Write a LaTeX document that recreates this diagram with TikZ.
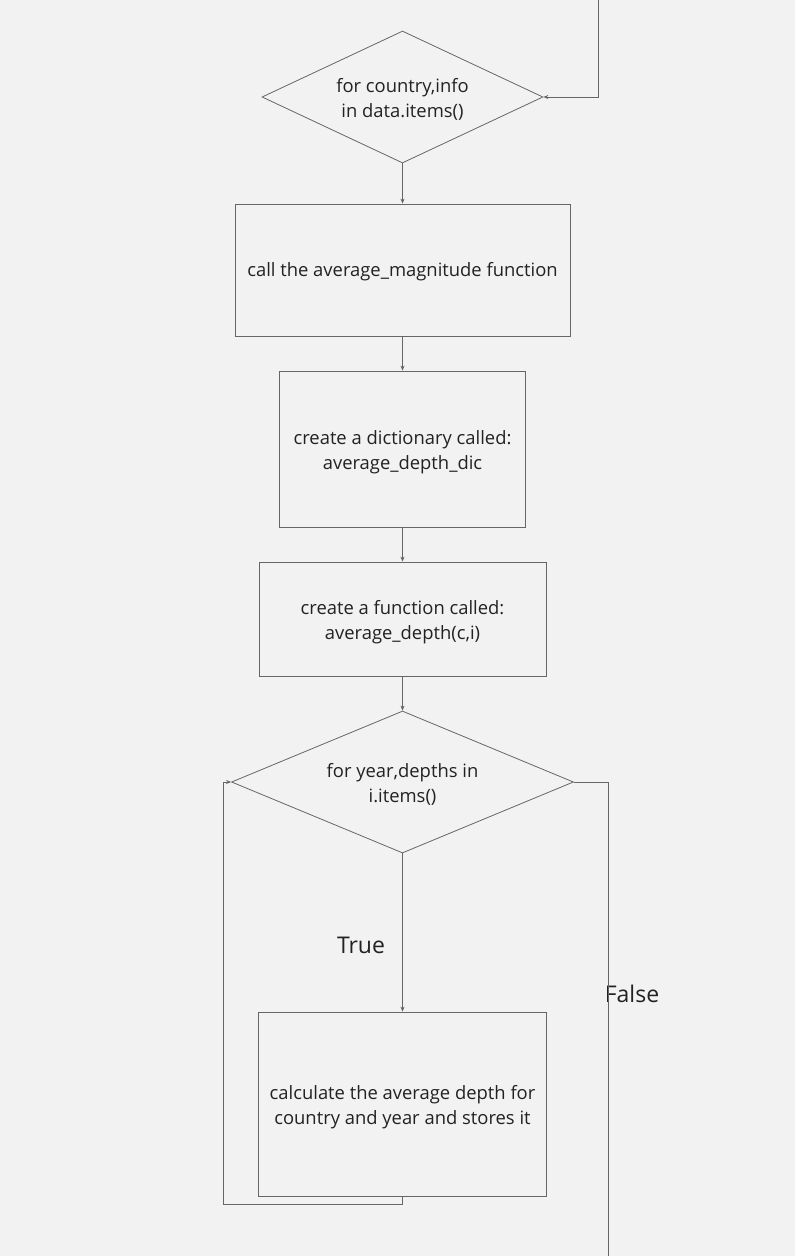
\documentclass[tikz,border=0pt]{standalone}
\usepackage{fontspec}
\setmainfont{Open Sans}
\usetikzlibrary{shapes.geometric,arrows.meta}
\definecolor{bg}{HTML}{F2F2F2}
\definecolor{ln}{HTML}{666666}
\definecolor{tx}{HTML}{222222}
\tikzset{
  boxst/.style={draw=ln, line width=0.8pt, fill=bg, inner sep=0pt},
  dia/.style={diamond, draw=ln, line width=0.8pt, inner sep=0pt},
  txt/.style={align=center, text=tx, font=\fontsize{18.4}{25}\selectfont},
  big/.style={text=tx, font=\fontsize{23}{28}\selectfont},
  arr/.style={draw=ln, line width=0.8pt, -{Stealth[length=5pt,width=4pt]}},
  ln/.style={draw=ln, line width=0.8pt}
}
\begin{document}
\begin{tikzpicture}[x=1pt,y=-1pt]
\useasboundingbox[fill=bg] (0,0) rectangle (795,1256);
% diamond 1
\node[dia, minimum width=281pt, minimum height=132pt] (d1) at (402.5,97) {};
\node[txt] (t1) at ([yshift=-2.5pt]d1.center) {for country,info\\in data.items()};
% box 1
\node[boxst, minimum width=335pt, minimum height=132pt] (b1) at (402.5,270) {};
\node[txt] (t1b) at ([yshift=-1.5pt]b1.center) {call the average\_magnitude function};
% box 2
\node[boxst, minimum width=246pt, minimum height=156pt] (b2) at (402.5,449) {};
\node[txt] (t2b) at ([yshift=-3pt]b2.center) {create a dictionary called:\\average\_depth\_dic};
% box 3
\node[boxst, minimum width=287pt, minimum height=114pt] (b3) at (402.5,619) {};
\node[txt] (t3b) at ([yshift=-3pt]b3.center) {create a function called:\\average\_depth(c,i)};
% diamond 2
\node[dia, minimum width=342pt, minimum height=142pt] (d2) at (402.5,782) {};
\node[txt] (t2) at ([yshift=-2.5pt]d2.center) {for year,depths in\\i.items()};
% box 4
\node[boxst, minimum width=288pt, minimum height=184pt] (b4) at (402.5,1104) {};
\node[txt] (t4b) at ([yshift=-3pt]b4.center) {calculate the average depth for\\country and year and stores it};
% labels
\node[big] (lt) at (361,945) {True};
\node[big] (lf) at (632,994) {False};
% coordinates
\coordinate (ts) at (598,0);
\coordinate (lp) at (223,1204);
\coordinate (fe) at (608,1256);
% connectors
\draw[arr] (ts) |- (d1.east);
\draw[arr] (d1.south) -- (b1.north);
\draw[arr] (b1.south) -- (b2.north);
\draw[arr] (b2.south) -- (b3.north);
\draw[arr] (b3.south) -- (d2.north);
\draw[arr] (d2.south) -- (b4.north);
\draw[arr] (b4.south) |- (lp) |- (d2.west);
\draw[ln] (d2.east) -| (fe);
\end{tikzpicture}
\end{document}
